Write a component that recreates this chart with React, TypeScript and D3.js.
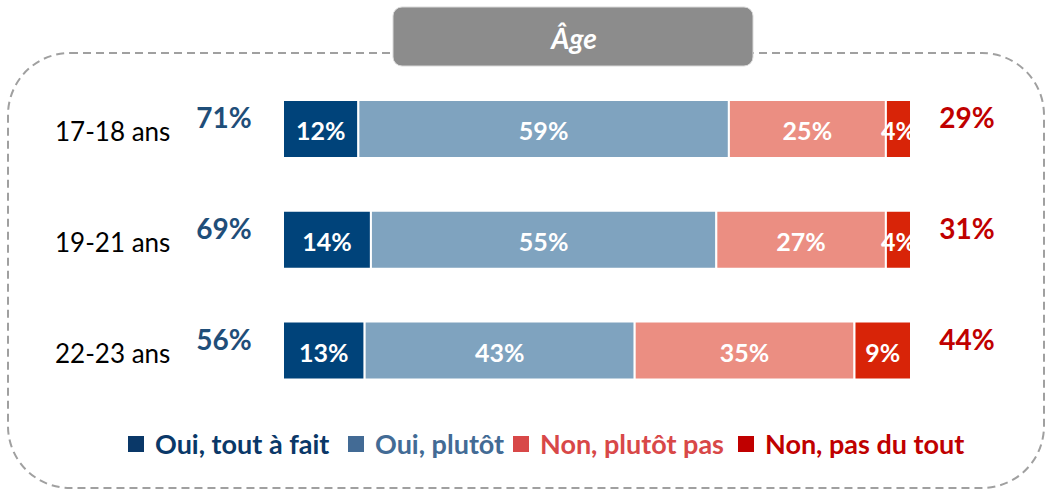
import React from "react";
import * as d3 from "d3";

const categories = ["17-18 ans", "19-21 ans", "22-23 ans"];
const seriesNames = ["Oui, tout à fait", "Oui, plutôt", "Non, plutôt pas", "Non, pas du tout"];
const ouiToutAFait = [12, 14, 13];
const ouiPlutot = [59, 55, 43];
const nonPlutotPas = [25, 27, 35];
const nonPasDuTout = [4, 4, 9];
const totalOui = [71, 69, 56];
const totalNon = [29, 31, 44];
const title = "Âge";

const barColors = ["#00437a", "#7fa3bf", "#eb8e82", "#d82408"];
const legendColors = ["#0a3868", "#436b95", "#d84848", "#c00000"];
const legendX = [128, 348, 513, 738];

const FONT = "Lato, 'Open Sans', sans-serif";

export default function App() {
  const W = 1050, H = 491;
  const x = d3.scaleLinear().domain([0, 100]).range([283, 911]);
  const y = d3.scalePoint<string>().domain(categories).range([129, 350.5]);
  const barH = 58;
  const series = [ouiToutAFait, ouiPlutot, nonPlutotPas, nonPasDuTout];
  const stackData = categories.map((c, i) => {
    const o: any = { cat: c };
    seriesNames.forEach((s, k) => (o[s] = series[k][i]));
    return o;
  });
  const stacked = d3.stack<any>().keys(seriesNames)(stackData);

  return (
    <svg width={W} height={H} style={{ position: "absolute", left: 0, top: 0 }} fontFamily={FONT}>
      <rect x={8} y={53} width={1036} height={435} rx={62} ry={62} fill="none" stroke="#a0a0a0" strokeWidth={2} strokeDasharray="8 5" />
      <rect x={393} y={7} width={360} height={59} rx={9} ry={9} fill="#8c8c8c" stroke="#d9d9d9" strokeWidth={1} />
      <text x={574} y={49} textAnchor="middle" fill="#ffffff" fontSize={28} fontWeight="bold" fontStyle="italic">{title}</text>

      {stacked.map((layer, k) =>
        layer.map((d, i) => {
          const cy = y(categories[i])!;
          const x0 = x(d[0]);
          const x1 = x(d[1]);
          return (
            <g key={`${k}-${i}`}>
              <rect x={x0} y={cy - barH / 2} width={x1 - x0} height={barH} fill={barColors[k]} stroke="#ffffff" strokeWidth={2} />
              <text x={(x0 + x1) / 2} y={cy + 11} textAnchor="middle" fill="#ffffff" fontSize={25} fontWeight="bold">
                {series[k][i]}%
              </text>
            </g>
          );
        })
      )}

      {categories.map((c, i) => {
        const cy = y(c)!;
        return (
          <g key={c}>
            <text x={55} y={cy + 12} fill="#000000" fontSize={26}>{c}</text>
            <text x={224} y={cy - 1} textAnchor="middle" fill="#1f4e79" fontSize={28} fontWeight="bold">{totalOui[i]}%</text>
            <text x={967} y={cy - 1} textAnchor="middle" fill="#c00000" fontSize={28} fontWeight="bold">{totalNon[i]}%</text>
          </g>
        );
      })}

      {seriesNames.map((s, k) => (
        <g key={s}>
          <rect x={legendX[k]} y={436} width={16} height={16} fill={legendColors[k]} />
          <text x={legendX[k] + 27} y={454} fill={legendColors[k]} fontSize={27} fontWeight="bold">{s}</text>
        </g>
      ))}
    </svg>
  );
}
